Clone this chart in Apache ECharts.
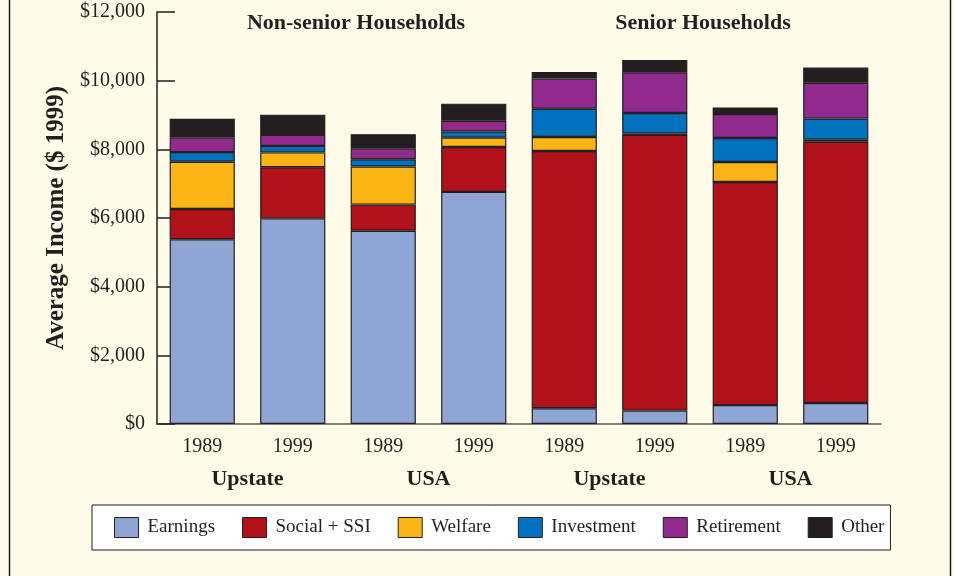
<!DOCTYPE html>
<html>
<head>
<meta charset="utf-8">
<style>
  html, body { margin: 0; padding: 0; background: #fefbe8; }
  #chart { width: 954px; height: 576px; }
</style>
<script src="https://cdn.jsdelivr.net/npm/echarts@6/dist/echarts.min.js"></script>
</head>
<body>
<div id="chart"></div>
<script>
// bars, left to right: non-senior Upstate/USA, then senior Upstate/USA
const years = ['1989', '1999', '1989', '1999', '1989', '1999', '1989', '1999'];
const regions = ['Upstate', 'USA', 'Upstate', 'USA'];
const groupTitles = ['Non-senior Households', 'Senior Households'];

const earnings   = [5380, 5990, 5630, 6760, 460, 390, 550, 610];
const socialSSI  = [880, 1490, 760, 1310, 7490, 8030, 6500, 7610];
const welfare    = [1380, 430, 1110, 270, 410, 40, 580, 60];
const investment = [280, 190, 210, 180, 820, 600, 700, 620];
const retirement = [420, 320, 320, 310, 880, 1185, 700, 1040];
const other      = [550, 590, 410, 500, 190, 360, 190, 440];

const seriesNames = ['Earnings', 'Social + SSI', 'Welfare', 'Investment', 'Retirement', 'Other'];
const seriesData = [earnings, socialSSI, welfare, investment, retirement, other];
const colors = ['#8fa6d4', '#b0111a', '#fbb615', '#0071bc', '#922a8e', '#231f20'];

const ink = '#231f20';
const serif = '"Liberation Serif", "DejaVu Serif", serif';

const chart = echarts.init(document.getElementById('chart'));

const option = {
    backgroundColor: '#fefbe8',
    animation: false,
    textStyle: { fontFamily: serif, color: ink },
    title: [
        {
            text: groupTitles[0], left: 351, top: 7, textAlign: 'center',
            textStyle: { fontFamily: serif, fontSize: 22, fontWeight: 'bold', color: ink }
        },
        {
            text: groupTitles[1], left: 698, top: 7, textAlign: 'center',
            textStyle: { fontFamily: serif, fontSize: 22, fontWeight: 'bold', color: ink }
        }
    ],
    graphic: [
        {
            type: 'rect', silent: true,
            shape: { x: 9.5, y: -10, width: 941, height: 600 },
            style: { fill: 'none', stroke: ink, lineWidth: 1.5 }
        }
    ],
    legend: {
        data: seriesNames,
        left: 92, top: 505,
        padding: [12, 6, 12, 22],
        itemGap: 27,
        itemWidth: 24,
        itemHeight: 20,
        icon: 'rect',
        backgroundColor: '#ffffff',
        borderColor: ink,
        borderWidth: 1,
        itemStyle: { borderColor: ink, borderWidth: 1 },
        textStyle: { fontFamily: serif, fontSize: 19, color: ink, padding: [0, 0, 0, 4] }
    },
    grid: { left: 157, right: 73, top: 12, bottom: 152, containLabel: false },
    xAxis: [
        {
            type: 'category',
            data: years,
            axisLine: { lineStyle: { color: '#5a5650', width: 1.5 } },
            axisTick: { inside: true, length: 10, interval: 0, lineStyle: { color: ink, width: 1.2 } },
            axisLabel: { margin: 13, fontSize: 20, color: ink, fontFamily: serif }
        },
        {
            type: 'category',
            data: regions,
            position: 'bottom',
            gridIndex: 0,
            axisLine: { show: false },
            axisTick: { show: false },
            axisLabel: { margin: 44, fontSize: 22, fontWeight: 'bold', color: ink, fontFamily: serif }
        }
    ],
    yAxis: {
        type: 'value',
        min: 0, max: 12000, interval: 2000,
        name: 'Average Income ($ 1999)',
        nameLocation: 'middle',
        nameGap: 82,
        nameTextStyle: { fontSize: 25, fontWeight: 'bold', color: ink, fontFamily: serif },
        axisLine: { show: true, lineStyle: { color: ink, width: 1.5 } },
        axisTick: { show: true, inside: true, length: 18, lineStyle: { color: ink, width: 1.5 } },
        splitLine: { show: false },
        axisLabel: {
            margin: 12, fontSize: 20, color: ink, fontFamily: serif,
            formatter: v => '$' + v.toLocaleString('en-US')
        }
    },
    series: seriesNames.map((name, i) => ({
        name: name,
        type: 'bar',
        stack: 'income',
        xAxisIndex: 0,
        barWidth: '72%',
        data: seriesData[i],
        itemStyle: { color: colors[i], borderColor: ink, borderWidth: 1.2 }
    }))
};

chart.setOption(option);
</script>
</body>
</html>
